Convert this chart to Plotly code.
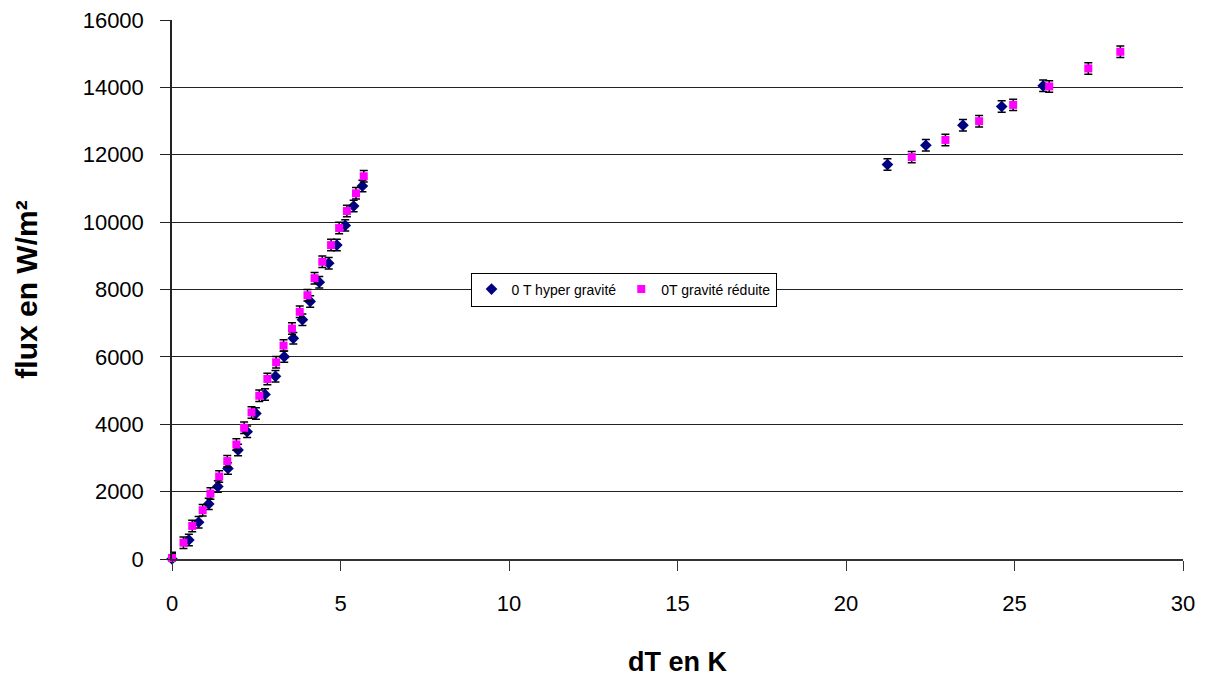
import plotly.graph_objects as go

# Data
hyper_x = [0.0, 0.50, 0.79, 1.09, 1.36, 1.66, 1.96, 2.23, 2.49, 2.76, 3.07, 3.33, 3.60, 3.87, 4.10, 4.37, 4.65, 4.89, 5.14, 5.39, 5.65,
           21.23, 22.37, 23.47, 24.62, 25.85]
hyper_y = [0, 565, 1091, 1636, 2150, 2686, 3233, 3777, 4321, 4886, 5422, 6007, 6550, 7105, 7645, 8217, 8782, 9318, 9903, 10477, 11072,
           11708, 12282, 12877, 13433, 14046]

reduite_x = [0.0, 0.34, 0.60, 0.91, 1.14, 1.40, 1.64, 1.91, 2.14, 2.36, 2.59, 2.83, 3.09, 3.31, 3.56, 3.79, 4.02, 4.23, 4.46, 4.72, 4.96, 5.19, 5.46, 5.69,
             21.95, 22.95, 23.95, 24.96, 26.03, 27.19, 28.14]
reduite_y = [30, 485, 981, 1448, 1942, 2448, 2905, 3399, 3896, 4351, 4847, 5344, 5838, 6335, 6840, 7337, 7830, 8336, 8823, 9318, 9823, 10329, 10855, 11361,
             11930, 12440, 12996, 13481, 14028, 14563, 15057]

err_value = 170

x_ticks = [0, 5, 10, 15, 20, 25, 30]
y_ticks = [0, 2000, 4000, 6000, 8000, 10000, 12000, 14000, 16000]

font_family = "Liberation Sans, Arial, sans-serif"

fig = go.Figure()
fig.add_trace(go.Scatter(
    x=hyper_x, y=hyper_y, mode="markers", name="0 T hyper gravité",
    marker=dict(symbol="diamond", size=9, color="#000080"),
    error_y=dict(type="constant", value=err_value, color="black", thickness=1.5, width=4),
    cliponaxis=False,
))
fig.add_trace(go.Scatter(
    x=reduite_x, y=reduite_y, mode="markers", name="0T gravité réduite",
    marker=dict(symbol="square", size=8, color="#FF00FF"),
    error_y=dict(type="constant", value=err_value, color="black", thickness=1.5, width=4),
    cliponaxis=False,
))

fig.update_layout(
    width=1216, height=677,
    margin=dict(l=172, r=33, t=20, b=118),
    paper_bgcolor="white", plot_bgcolor="white",
    font=dict(family=font_family, color="black", size=22),
    showlegend=True,
    legend=dict(
        orientation="h", x=0.4466, y=0.5, xanchor="center", yanchor="middle",
        bgcolor="white", bordercolor="black", borderwidth=1,
        font=dict(size=14, family=font_family), itemwidth=30,
        tracegroupgap=0,
    ),
    xaxis=dict(
        range=[0, 30], tickvals=x_ticks, ticktext=[str(v) for v in x_ticks],
        showgrid=False, zeroline=False, showline=True, linecolor="#333333", linewidth=1.5,
        ticks="outside", ticklen=10, tickcolor="#333333", tickwidth=1.2,
        tickfont=dict(size=22), ticklabelstandoff=14, automargin=False,
        title=dict(text="<b>dT en K</b>", font=dict(size=27), standoff=37),
    ),
    yaxis=dict(
        range=[0, 16000], tickvals=y_ticks, ticktext=[str(v) for v in y_ticks],
        showgrid=True, gridcolor="#222222", gridwidth=1.3,
        zeroline=False, showline=True, linecolor="#222222", linewidth=1.5,
        ticks="outside", ticklen=10, tickcolor="#222222", tickwidth=1.2,
        tickfont=dict(size=22), ticklabelstandoff=12, automargin=False,
        title=dict(text="<b>flux en W/m²</b>", font=dict(size=30), standoff=36),
    ),
)

fig.write_html("out.html")
